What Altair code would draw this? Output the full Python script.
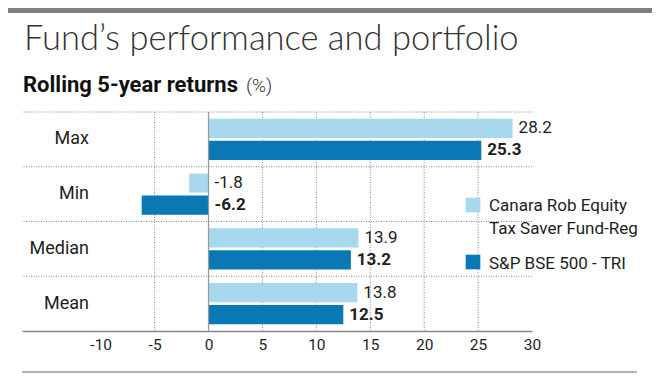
import altair as alt
import pandas as pd

# ---- data ----
categories = ["Max", "Min", "Median", "Mean"]
fund_values = [28.2, -1.8, 13.9, 13.8]
index_values = [25.3, -6.2, 13.2, 12.5]
series_names = ["Canara Rob Equity Tax Saver Fund-Reg", "S&P BSE 500 - TRI"]
series_colors = ["#a8d8ee", "#0a78b4"]
x_ticks = [-10, -5, 0, 5, 10, 15, 20, 25, 30]
grid_values = [-5, 5, 10, 15, 20, 25]

rows = []
for cat, fv, iv in zip(categories, fund_values, index_values):
    for s, v in zip(series_names, [fv, iv]):
        rows.append({"cat": cat, "series": s, "value": v,
                     "label_pos": max(v, 0.0), "label": f"{v:.1f}"})
df = pd.DataFrame(rows)
cat_df = pd.DataFrame({"cat": categories})
grid_df = pd.DataFrame({"g": grid_values})
zero_df = pd.DataFrame({"g": [0]})
one = pd.DataFrame({"a": [0]})

FONT = "Roboto"
TXT = "#1e1e1e"
W, H = 510, 219
DOT = [1, 1.5]
DOTC = "#888888"

x_scale = alt.Scale(domain=[-17.3, 30], nice=False, zero=False)
x_axis = alt.Axis(values=x_ticks, grid=False, ticks=False, title=None,
                  domainColor="#888888", domainWidth=1.3,
                  labelFont=FONT, labelFontSize=15.5, labelColor=TXT,
                  labelPadding=6, labelFlush=False, labelOverlap=False,
                  labelExpr="'' + datum.value")
y_scale = alt.Scale(domain=categories, paddingInner=0, paddingOuter=0)
yoff_scale = alt.Scale(domain=series_names, paddingInner=0.136, paddingOuter=0.3125)
color_scale = alt.Scale(domain=series_names, range=series_colors)


def X(field):
    return alt.X(field, scale=x_scale, axis=x_axis, title=None)


Y = alt.Y("cat:N", scale=y_scale, axis=None)
YOFF = alt.YOffset("series:N", scale=yoff_scale)

# horizontal dotted lines at band boundaries
hlines = alt.Chart(cat_df).mark_rule(color=DOTC, strokeDash=DOT, strokeWidth=1).encode(
    y=alt.Y("cat:N", scale=y_scale, axis=None, bandPosition=0)
)

# vertical dotted gridlines
vgrid = alt.Chart(grid_df).mark_rule(color=DOTC, strokeDash=DOT, strokeWidth=1).encode(
    x=X("g:Q")
)

bars = alt.Chart(df).mark_bar().encode(
    x=alt.X("value:Q", scale=x_scale, axis=x_axis, title=None, stack=None),
    x2=alt.datum(0),
    y=Y,
    yOffset=YOFF,
    color=alt.Color("series:N", scale=color_scale, legend=None),
)

zero_line = alt.Chart(zero_df).mark_rule(color="#9a9a9a", strokeWidth=1.3).encode(
    x=X("g:Q")
)

labels_fund = alt.Chart(df).transform_filter(
    alt.datum.series == series_names[0]
).mark_text(align="left", baseline="middle", dx=6, font=FONT, fontSize=17, color=TXT).encode(
    x=X("label_pos:Q"), y=Y, yOffset=YOFF, text="label:N"
)
labels_index = alt.Chart(df).transform_filter(
    alt.datum.series == series_names[1]
).mark_text(align="left", baseline="middle", dx=6, font=FONT, fontSize=17,
            fontWeight="bold", color=TXT).encode(
    x=X("label_pos:Q"), y=Y, yOffset=YOFF, text="label:N"
)

cat_labels = alt.Chart(cat_df).mark_text(
    align="right", baseline="middle", font=FONT, fontSize=18, color=TXT
).encode(x=alt.value(67), y=Y, text="cat:N")

# legend (custom)
leg_sq1 = alt.Chart(one).mark_square(size=215, color=series_colors[0], opacity=1).encode(
    x=alt.value(451), y=alt.value(93))
leg_sq2 = alt.Chart(one).mark_square(size=215, color=series_colors[1], opacity=1).encode(
    x=alt.value(451), y=alt.value(150))
leg_t1 = alt.Chart(one).mark_text(align="left", baseline="alphabetic", font=FONT, fontSize=17,
                                  color=TXT, lineBreak="\n", lineHeight=23).encode(
    x=alt.value(467), y=alt.value(99), text=alt.value("Canara Rob Equity\nTax Saver Fund-Reg"))
leg_t2 = alt.Chart(one).mark_text(align="left", baseline="alphabetic", font=FONT, fontSize=17,
                                  color=TXT).encode(
    x=alt.value(467), y=alt.value(157), text=alt.value(series_names[1]))

# titles
title = alt.Chart(one).mark_text(align="left", baseline="alphabetic", font="Lato",
                                 fontWeight=300, fontSize=34.5, color="#333333").encode(
    x=alt.value(2), y=alt.value(-62), text=alt.value("Fund\u2019s performance and portfolio"))
subtitle = alt.Chart(one).mark_text(align="left", baseline="alphabetic", font=FONT,
                                    fontWeight="bold", fontSize=22, color="#111111").encode(
    x=alt.value(1), y=alt.value(-20), text=alt.value("Rolling 5-year returns"))
subtitle_pct = alt.Chart(one).mark_text(align="left", baseline="alphabetic", font=FONT,
                                        fontWeight=300, fontSize=19, color="#333333").encode(
    x=alt.value(224), y=alt.value(-20), text=alt.value("(%)"))

top_bar = alt.Chart(one).mark_rect(color="#808080").encode(
    x=alt.value(-14), x2=alt.value(W + 120), y=alt.value(-104), y2=alt.value(-99))
bottom_line = alt.Chart(one).mark_rule(color="#999999", strokeWidth=1.3).encode(
    x=alt.value(0), x2=alt.value(615), y=alt.value(260))

chart = alt.layer(
    top_bar, hlines, vgrid, bars, zero_line, labels_fund, labels_index, cat_labels,
    leg_sq1, leg_sq2, leg_t1, leg_t2, title, subtitle, subtitle_pct, bottom_line
).properties(
    width=W, height=H,
    autosize=alt.AutoSizeParams(type="none"),
    padding={"left": 14, "top": 104, "right": 120, "bottom": 43},
).configure_view(stroke=None)

chart.save("out.html", embed_options={"renderer": "svg", "actions": False})
